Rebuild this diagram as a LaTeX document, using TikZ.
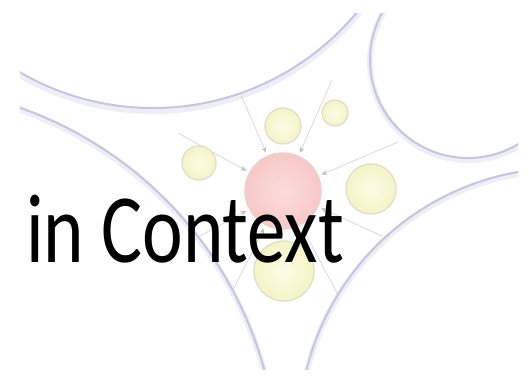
\documentclass[tikz,border=0pt]{standalone}
\usepackage{fontspec}
\newfontfamily\titlefont{Carlito}
\usetikzlibrary{arrows.meta}
\definecolor{arcc}{HTML}{C6C6DF}
\definecolor{arcglow}{HTML}{EEEEF6}
\definecolor{connc}{HTML}{D9D9D9}
\definecolor{ylin}{HTML}{FCFCE6}
\definecolor{ylout}{HTML}{F4F4C6}
\definecolor{ylrim}{HTML}{E0E0CA}
\definecolor{rdin}{HTML}{FCDCDC}
\definecolor{rdout}{HTML}{F7C8C8}
\definecolor{rdrim}{HTML}{EDCFCF}
\tikzset{
  bigarc/.style={draw=arcc, line width=2pt},
  arcshadow/.style={draw=arcglow, line width=6pt},
  conn/.style={draw=connc, line width=0.8pt, shorten >=3pt,
    -{Stealth[length=6pt,width=5pt,color=connc!88!black]}},
  yball/.style={circle, inner sep=0pt, draw=ylrim, line width=1.4pt,
    inner color=ylin, outer color=ylout},
  rball/.style={circle, inner sep=0pt, draw=rdrim, line width=1.4pt,
    inner color=rdin, outer color=rdout},
}
\begin{document}
\begin{tikzpicture}[x=1pt,y=-1pt]
\useasboundingbox (0,0) rectangle (529,376);
\begin{scope}
  \clip (20,13) rectangle (518,369);
  % soft shadows of big arcs
  \draw[arcshadow] (153,-154) circle[radius=265];
  \draw[arcshadow] (468,62) circle[radius=98];
  \draw[arcshadow] (-108,474) circle[radius=386];
  \draw[arcshadow] (564,435) circle[radius=265];
  % big arcs
  \draw[bigarc] (153,-157) circle[radius=265];
  \draw[bigarc] (468,60) circle[radius=98];
  \draw[bigarc] (-108,472) circle[radius=386];
  \draw[bigarc] (564,433) circle[radius=265];
\end{scope}
% nodes
\node[rball, minimum size=76pt] (red) at (283,191) {};
\coordinate (s1) at (240,93);
\coordinate (s2) at (332,80);
\coordinate (s3) at (178,133);
\coordinate (s4) at (398,142);
\coordinate (s5) at (382,236);
\coordinate (s6) at (200,236);
\coordinate (s7) at (232,292);
\coordinate (s8) at (337,293);
\foreach \s in {s1,s2,s3,s4,s5,s6,s7,s8} \draw[conn] (\s) -- (red);
\node[yball, minimum size=36pt] (top) at (283,126) {};
\node[yball, minimum size=26pt] (topr) at (335,113) {};
\node[yball, minimum size=34pt] (left) at (199,163) {};
\node[yball, minimum size=50pt] (right) at (371,189) {};
\node[yball, minimum size=60pt] (bottom) at (284,271) {};
% title
\node[anchor=base west, inner sep=0pt, font=\titlefont\fontsize{98}{98}\selectfont]
  (title) at (26,262) {\scalebox{0.785}[1]{in Context}};
\end{tikzpicture}
\end{document}
